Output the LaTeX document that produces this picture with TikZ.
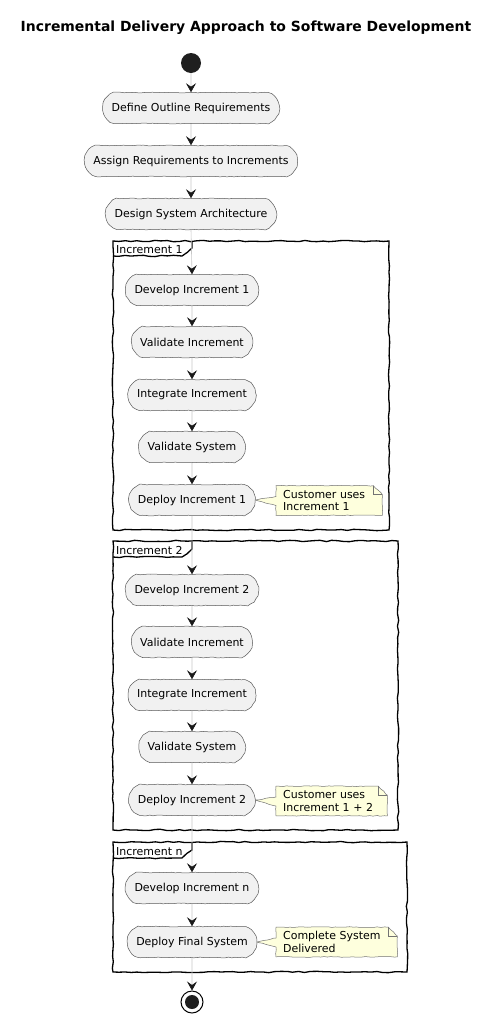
\documentclass[tikz,border=0pt]{standalone}
\usepackage{fontspec}
\setmainfont{DejaVu Sans}
\usetikzlibrary{arrows.meta,calc,decorations.pathmorphing,shapes.misc}
\definecolor{boxfill}{HTML}{F1F1F1}
\definecolor{notefill}{HTML}{FEFFDD}
\pgfdeclarelayer{back}
\pgfdeclarelayer{bg}
\pgfsetlayers{back,bg,main}
\tikzset{
  wavy/.style={decorate, decoration={random steps, segment length=3.5bp, amplitude=0.4bp}},
  act/.style={rounded rectangle, rounded rectangle arc length=140, draw=black!65, line width=0.5bp, fill=boxfill,
    minimum height=31bp, inner xsep=8bp, font=\fontsize{11}{13}\selectfont, wavy},
  notetext/.style={anchor=west, align=left, inner xsep=7bp, inner ysep=4bp,
    font=\fontsize{11}{13}\selectfont},
  noteshape/.style={draw=black!55, line width=0.5bp, fill=notefill, wavy},
  framebox/.style={draw=black, line width=1.3bp, decorate,
    decoration={random steps, segment length=6bp, amplitude=0.7bp}},
  tablabel/.style={anchor=base west, inner sep=0pt, font=\fontsize{11}{13}\selectfont},
  flow/.style={draw=black!22, line width=0.6bp,
    -{Stealth[length=9bp,width=10bp,inset=3.5bp,color=black!90]}},
}
\begin{document}
\begin{tikzpicture}[x=1bp,y=-1bp]
\useasboundingbox (0,0) rectangle (493,1033);

% title
\node[font=\fontsize{14}{16}\selectfont\bfseries] (title) at (246,28) {Incremental Delivery Approach to Software Development};

% frames
\begin{pgfonlayer}{back}
\draw[framebox, fill=white] (113,241) rectangle (389,530);
\draw[framebox] (113,256) -- (182,256) -- (192,248) -- (192,241);
\draw[framebox, fill=white] (113,541) rectangle (398,830);
\draw[framebox] (113,557) -- (182,557) -- (192,549) -- (192,541);
\draw[framebox, fill=white] (113,842) rectangle (407,972);
\draw[framebox] (113,858) -- (182,858) -- (192,850) -- (192,842);
\end{pgfonlayer}
\node[tablabel] (t1) at (116,253) {Increment 1};
\node[tablabel] (t2) at (116,554) {Increment 2};
\node[tablabel] (t3) at (116,855) {Increment n};

% start
\node[circle, fill=black!88, minimum size=20bp, inner sep=0pt] (start) at (191,63) {};

% activities
\node[act] (a1) at (191,108) {Define Outline Requirements};
\node[act] (a2) at (191,161) {Assign Requirements to Increments};
\node[act] (a3) at (191,214) {Design System Architecture};

\node[act] (b1) at (192,290) {Develop Increment 1};
\node[act] (b2) at (192,342) {Validate Increment};
\node[act] (b3) at (192,395) {Integrate Increment};
\node[act] (b4) at (192,447) {Validate System};
\node[act] (b5) at (192,500) {Deploy Increment 1};

\node[act] (c1) at (192,590) {Develop Increment 2};
\node[act] (c2) at (192,642) {Validate Increment};
\node[act] (c3) at (192,695) {Integrate Increment};
\node[act] (c4) at (192,747) {Validate System};
\node[act] (c5) at (192,800) {Deploy Increment 2};

\node[act] (d1) at (192,888) {Develop Increment n};
\node[act] (d2) at (192,942) {Deploy Final System};

% end
\node[circle, draw=black, line width=1bp, fill=white, minimum size=22bp, inner sep=0pt] (stop) at (192,1002) {};
\node[circle, fill=black!88, minimum size=14bp, inner sep=0pt] (stopin) at (stop.center) {};

% notes
\node[notetext, text width=92bp] (n1) at (276,500.5) {Customer uses\\Increment 1};
\node[notetext, text width=97bp] (n2) at (276,801) {Customer uses\\Increment 1 + 2};
\node[notetext, text width=107bp] (n3) at (276,942) {Complete System\\Delivered};

\begin{pgfonlayer}{bg}
\foreach \n/\b in {n1/b5, n2/c5, n3/d2} {
  \draw[noteshape] (\n.north west) -- ($(\n.north east)+(-9,0)$) -- ($(\n.north east)+(0,9)$)
    -- (\n.south east) -- (\n.south west) -- ($(\n.west)+(0,5)$) -- (\b.east)
    -- ($(\n.west)+(0,-4)$) -- cycle;
  \draw[draw=black!55, line width=0.5bp] ($(\n.north east)+(-9,0)$) -- ($(\n.north east)+(-9,9)$) -- ($(\n.north east)+(0,9)$);
}
\end{pgfonlayer}

% connectors
\draw[flow] (start) -- (a1);
\draw[flow] (a1) -- (a2);
\draw[flow] (a2) -- (a3);
\draw[flow] (a3.south) -- (b1.north);
\draw[flow] (b1) -- (b2);
\draw[flow] (b2) -- (b3);
\draw[flow] (b3) -- (b4);
\draw[flow] (b4) -- (b5);
\draw[flow] (b5) -- (c1);
\draw[flow] (c1) -- (c2);
\draw[flow] (c2) -- (c3);
\draw[flow] (c3) -- (c4);
\draw[flow] (c4) -- (c5);
\draw[flow] (c5) -- (d1);
\draw[flow] (d1) -- (d2);
\draw[flow] (d2) -- (stop);
\end{tikzpicture}
\end{document}
